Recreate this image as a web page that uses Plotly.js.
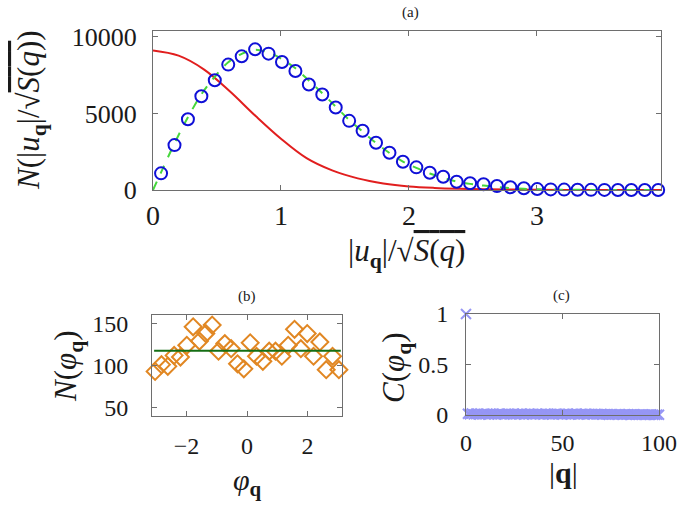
<!DOCTYPE html>
<html>
<head>
<meta charset="utf-8">
<script src="https://cdn.plot.ly/plotly-3.0.1.min.js"></script>
<style>html,body{margin:0;padding:0;background:#fff;}#plot{width:685px;height:508px;}</style>
</head>
<body>
<div id="plot"></div>
<script>
// ---------- Panel (a): amplitude histogram ----------
const ampBins = [0.063, 0.168, 0.273, 0.378, 0.483, 0.588, 0.693, 0.798, 0.903, 1.008,
  1.113, 1.218, 1.323, 1.428, 1.533, 1.638, 1.743, 1.848, 1.953, 2.058,
  2.163, 2.268, 2.373, 2.478, 2.583, 2.688, 2.793, 2.898, 3.003, 3.108,
  3.213, 3.318, 3.423, 3.528, 3.633, 3.738, 3.843, 3.948];
const ampCounts = [1088, 2934, 4628, 6128, 7170, 8193, 8735, 9192, 8910, 8365,
  7777, 6890, 6238, 5390, 4518, 3867, 3083, 2432, 1845, 1480,
  1128, 867, 541, 437, 372, 261, 176, 111, 60, 40,
  25, 15, 10, 6, 4, 2, 1, 1];
const fitX = [0, 0.063, 0.168, 0.273, 0.378, 0.483, 0.588, 0.693, 0.798, 0.903, 1.008,
  1.113, 1.218, 1.323, 1.428, 1.533, 1.638, 1.743, 1.848, 1.953, 2.058,
  2.163, 2.268, 2.373, 2.478, 2.583, 2.688, 2.793, 2.898, 3.003, 3.108,
  3.213, 3.318, 3.423, 3.528, 3.633, 3.738, 3.843, 3.948];
const fitCounts = [0, 1150, 3050, 4750, 6250, 7400, 8350, 8900, 9170, 8980, 8550,
  7950, 7150, 6320, 5450, 4580, 3820, 3070, 2420, 1860, 1440,
  1080, 800, 550, 400, 290, 200, 130, 80, 50, 30,
  19, 12, 6, 3, 2, 1, 0.5, 0.3];
const gaussX = [0, 0.2, 0.4, 0.6, 0.8, 1.0, 1.2, 1.4, 1.6, 1.8, 2.0, 2.2, 2.4, 2.6, 2.8, 3.0, 3.2, 3.4, 3.6, 3.8, 3.97];
const gaussCounts = [9120, 8780, 7870, 6450, 4850, 3350, 2080, 1280, 760, 430, 235, 135, 80, 45, 25, 13, 7, 4, 2, 1, 0];

// ---------- Panel (b): phase histogram ----------
const phiBins = [-3.037, -2.827, -2.618, -2.408, -2.199, -1.990, -1.780, -1.571, -1.361, -1.152,
  -0.942, -0.733, -0.524, -0.314, -0.105, 0.105, 0.314, 0.524, 0.733, 0.942,
  1.152, 1.361, 1.571, 1.780, 1.990, 2.199, 2.408, 2.618, 2.827, 3.037];
const phiCounts = [93, 101, 99, 112, 110, 124, 146, 129, 138, 148,
  117, 126, 120, 102, 96, 127, 111, 105, 117, 117,
  111, 124, 143, 120, 138, 111, 128, 95, 111, 95];
const phiMeanX = [-3.07, 3.10];
const phiMean = [117.5, 117.5];

// ---------- Panel (c): phase correlation ----------
const qMag = [0, 1, 2, 3, 4, 5, 6, 7, 8, 9, 10, 11, 12, 13, 14, 15, 16, 17, 18, 19, 20,
  21, 22, 23, 24, 25, 26, 27, 28, 29, 30, 31, 32, 33, 34, 35, 36, 37, 38, 39, 40,
  41, 42, 43, 44, 45, 46, 47, 48, 49, 50, 51, 52, 53, 54, 55, 56, 57, 58, 59, 60,
  61, 62, 63, 64, 65, 66, 67, 68, 69, 70, 71, 72, 73, 74, 75, 76, 77, 78, 79, 80,
  81, 82, 83, 84, 85, 86, 87, 88, 89, 90, 91, 92, 93, 94, 95, 96, 97, 98, 99, 100];
const corr = [1, 0.012, 0.008, 0.015, 0.006, 0.010, 0.013, 0.004, 0.009, 0.011, 0.007,
  0.014, 0.005, 0.010, 0.012, 0.006, 0.009, 0.013, 0.008, 0.011, 0.005,
  0.010, 0.014, 0.007, 0.009, 0.012, 0.006, 0.011, 0.008, 0.013, 0.005,
  0.010, 0.009, 0.012, 0.007, 0.011, 0.006, 0.013, 0.008, 0.010, 0.005,
  0.012, 0.009, 0.007, 0.011, 0.006, 0.010, 0.013, 0.008, 0.009, 0.005,
  0.011, 0.007, 0.012, 0.006, 0.010, 0.009, 0.013, 0.005, 0.008, 0.011,
  0.007, 0.012, 0.006, 0.010, 0.009, 0.004, 0.011, 0.008, 0.006, 0.010,
  0.005, 0.009, 0.007, 0.003, 0.008, 0.006, 0.004, 0.009, 0.005, 0.007,
  0.003, 0.006, 0.004, 0.008, 0.002, 0.005, 0.007, 0.003, 0.004, 0.006,
  0.002, 0.005, 0.003, 0.004, 0.002, 0.006, 0.003, 0.001, 0.004, 0.002];

const ampTicks = [0, 5000, 10000];
const ampTickText = ['0', '5000', '10000'];

const W = 685, H = 508;
const fx = x => x / W;
const fy = y => 1 - y / H;
const SERIF = 'Liberation Serif, Times New Roman, DejaVu Serif, serif';
const AX = '#6e6e6e';

const traces = [
  {x: gaussX, y: gaussCounts, xaxis: 'x', yaxis: 'y', mode: 'lines', type: 'scatter',
   line: {color: 'rgb(225,30,30)', width: 2, shape: 'spline'}, cliponaxis: false},
  {x: fitX, y: fitCounts, xaxis: 'x', yaxis: 'y', mode: 'lines', type: 'scatter',
   line: {color: 'rgb(70,215,60)', width: 2, dash: 'dash', shape: 'spline'}},
  {x: ampBins, y: ampCounts, xaxis: 'x', yaxis: 'y', mode: 'markers', type: 'scatter',
   marker: {symbol: 'circle-open', size: 12, color: 'rgb(15,15,215)', line: {width: 2, color: 'rgb(15,15,215)'}},
   cliponaxis: false},
  {x: phiBins, y: phiCounts, xaxis: 'x2', yaxis: 'y2', mode: 'markers', type: 'scatter',
   marker: {symbol: 'diamond-open', size: 13, color: 'rgb(225,135,35)', line: {width: 2, color: 'rgb(225,135,35)'}},
   cliponaxis: false},
  {x: phiMeanX, y: phiMean, xaxis: 'x2', yaxis: 'y2', mode: 'lines', type: 'scatter',
   line: {color: 'rgb(20,110,20)', width: 2}},
  {x: qMag, y: corr, xaxis: 'x3', yaxis: 'y3', mode: 'markers', type: 'scatter',
   marker: {symbol: 'x-thin', size: 10, color: 'rgb(150,150,245)', line: {width: 2, color: 'rgb(150,150,245)'}},
   cliponaxis: false}
];

function axis(extra) {
  return Object.assign({
    showline: true, linecolor: AX, linewidth: 1, mirror: 'ticks',
    ticks: 'inside', ticklen: 5, tickcolor: AX, tickwidth: 1,
    showgrid: false, zeroline: false, fixedrange: true,
    tickfont: {family: SERIF, size: 24, color: '#1a1a1a'}
  }, extra);
}

const sq = "√<span style='text-decoration:overline'><i>S</i>(<i>q</i>)</span>";
const uq = "|<i>u</i><sub><b>q</b></sub>|";
const phq = "<i>φ</i><sub><b>q</b></sub>";

function ann(text, x, y, size, angle) {
  return {text: text, xref: 'paper', yref: 'paper', x: fx(x), y: fy(y),
    xanchor: 'center', yanchor: 'middle', showarrow: false, textangle: angle || 0,
    font: {family: SERIF, size: size, color: '#1a1a1a'}};
}

const layout = {
  width: W, height: H,
  margin: {l: 0, r: 0, t: 0, b: 0},
  paper_bgcolor: '#fff', plot_bgcolor: '#fff',
  showlegend: false,
  xaxis: axis({domain: [fx(153), fx(661)], range: [0, 3.97], tickvals: [0, 1, 2, 3],
    tickfont: {family: SERIF, size: 28, color: '#1a1a1a'}, ticklabelstandoff: 0, anchor: 'y'}),
  yaxis: axis({domain: [fy(190), fy(31)], range: [0, 10390], tickvals: ampTicks, ticktext: ampTickText,
    tickfont: {family: SERIF, size: 26, color: '#1a1a1a'}, ticklabelstandoff: 10, anchor: 'x'}),
  xaxis2: axis({domain: [fx(152), fx(342)], range: [-3.14, 3.14], tickvals: [-2, 0, 2],
    ticklabelstandoff: 8, anchor: 'y2'}),
  yaxis2: axis({domain: [fy(416), fy(315)], range: [40, 160], tickvals: [50, 100, 150],
    ticklabelstandoff: 18, anchor: 'x2'}),
  xaxis3: axis({domain: [fx(466), fx(659)], range: [0, 100], tickvals: [0, 50, 100],
    ticklabelstandoff: 6, anchor: 'y3'}),
  yaxis3: axis({domain: [fy(415), fy(314)], range: [0, 1], tickvals: [0, 0.5, 1],
    ticktext: ['0', '0.5', '1'], ticklabelstandoff: 12, anchor: 'x3'}),
  annotations: [
    ann('(a)', 410, 13, 15),
    ann('(b)', 247, 296, 15),
    ann('(c)', 561, 295, 15),
    ann('<i>N</i>(' + uq + '/' + sq + ')', 31, 110, 31, -90),
    ann(uq + '/' + sq, 406, 253, 31),
    ann('<i>N</i>(' + phq + ')', 68, 366, 31, -90),
    ann(phq, 247, 482, 30),
    ann('<i>C</i>(' + phq + ')', 396, 368, 31, -90),
    ann('|<b>q</b>|', 563, 472, 30)
  ]
};

Plotly.newPlot('plot', traces, layout, {staticPlot: true, displayModeBar: false});
</script>
</body>
</html>
